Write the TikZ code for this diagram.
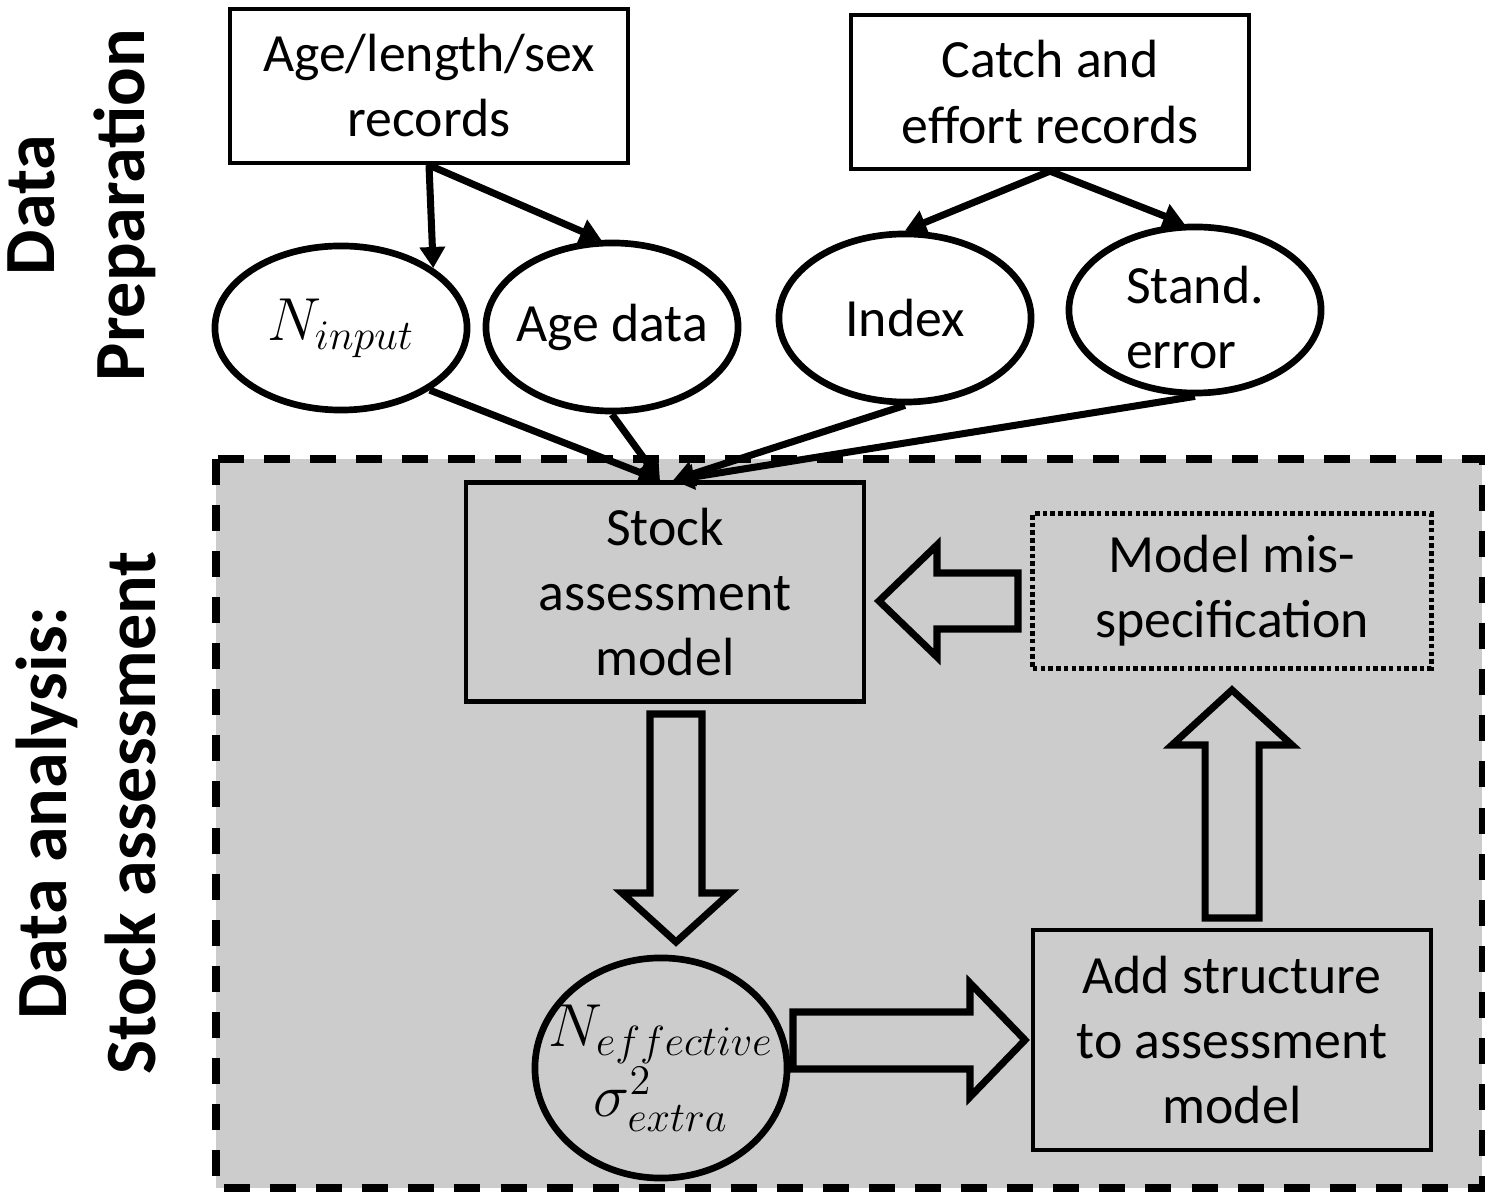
\documentclass[tikz,border=0pt]{standalone}
\usepackage{fontspec}
\setmainfont{Carlito}
\usepackage{tikz}
\usetikzlibrary{calc,arrows.meta,shapes.geometric}
\definecolor{panel}{RGB}{204,204,204}

\begin{document}
\begin{tikzpicture}[x=0.01cm, y=-0.01cm, >={Triangle[length=6pt,width=7pt]},
  every node/.style={font=\fontsize{15.3}{18.5}\selectfont, align=center},
  box/.style={draw, line width=1.2pt, minimum width=3.98cm, inner sep=0pt},
  oval/.style={draw, ellipse, line width=1.9pt, inner sep=-0.6cm, minimum width=2.52cm},
  mathtext/.style={font=\fontsize{17}{20}\selectfont},
  link/.style={->, line width=2pt},
  block/.style={line width=2pt, line join=miter}]
  \useasboundingbox (0,0) rectangle (1485,1192);

  % Analysis panel
  \draw[fill=panel, line width=2pt, dash pattern=on 7.4pt off 5.7pt] (216,459) rectangle (1482,1188);

  % Side labels
  \node[rotate=90, font=\bfseries\fontsize{20.5}{25.5}\selectfont] (prep) at (82,205) {Data\\Preparation};
  \node[rotate=90, font=\bfseries\fontsize{20.5}{25.5}\selectfont] (analysis) at (86,813) {Data analysis:\\Stock assessment};

  % Records
  \node[box, minimum height=1.54cm] (rec) at (429,86) {Age/length/sex\\records};
  \node[box, minimum height=1.54cm] (catch) at (1050,92) {Catch and\\effort records};

  % Prepared data
  \node[oval, mathtext, minimum height=1.64cm] (nin) at (341,328) {$N_{input}$};
  \node[oval, minimum height=1.68cm] (age) at (612,327) {Age data};
  \node[oval, minimum height=1.68cm] (idx) at (905,318) {Index};
  \node[oval, minimum height=1.66cm] (se) at (1195,310)
    {\raisebox{-0.26cm}[0pt][0pt]{\begin{tabular}{@{}l@{}}Stand.\\error\end{tabular}}};

  % Assessment steps
  \node[box, minimum height=2.19cm] (stock) at (665,592) {Stock\\assessment\\model};
  \node[box, minimum height=1.54cm, line width=1.4pt, dash pattern=on 1.3pt off 0.9pt] (mis) at (1232,591) {Model mis-\\specification};
  \node[oval, mathtext, minimum height=2.2cm] (neff) at (661,1068) {$N_{effective}$\\[0pt]$\sigma^2_{extra}$};
  \node[box, minimum height=2.2cm] (add) at (1232,1040) {Add structure\\to assessment\\model};

  % Data flow
  \coordinate (inA) at ($(stock.north)+(-5,0)$);
  \coordinate (inB) at ($(stock.north)+(8,0)$);
  \draw[link] (rec.south) -- (nin.33);
  \draw[link] (rec.south) -- (age.97);
  \draw[link] (catch.south) -- (idx.north);
  \draw[link] (catch.south) -- (se.97);
  \draw[link] (nin.-35) -- (inA);
  \draw[link] (age.south) -- (inA);
  \draw[link] (idx.south) -- (inB);
  \draw[link] (se.south) -- (inB);

  % Block arrows
  \draw[block] (650,714) -- (702,714) -- (702,893) -- (730,893) -- (676,942) -- (622,893) -- (650,893) -- cycle;
  \draw[block] (793,1012) -- (970,1012) -- (970,983) -- (1025,1040) -- (970,1097) -- (970,1069) -- (793,1069) -- cycle;
  \draw[block] (1205,918) -- (1259,918) -- (1259,745) -- (1292,745) -- (1232,690) -- (1172,745) -- (1205,745) -- cycle;
  \draw[block] (1018,573) -- (937,573) -- (937,545) -- (879,601) -- (937,657) -- (937,629) -- (1018,629) -- cycle;
\end{tikzpicture}
\end{document}
